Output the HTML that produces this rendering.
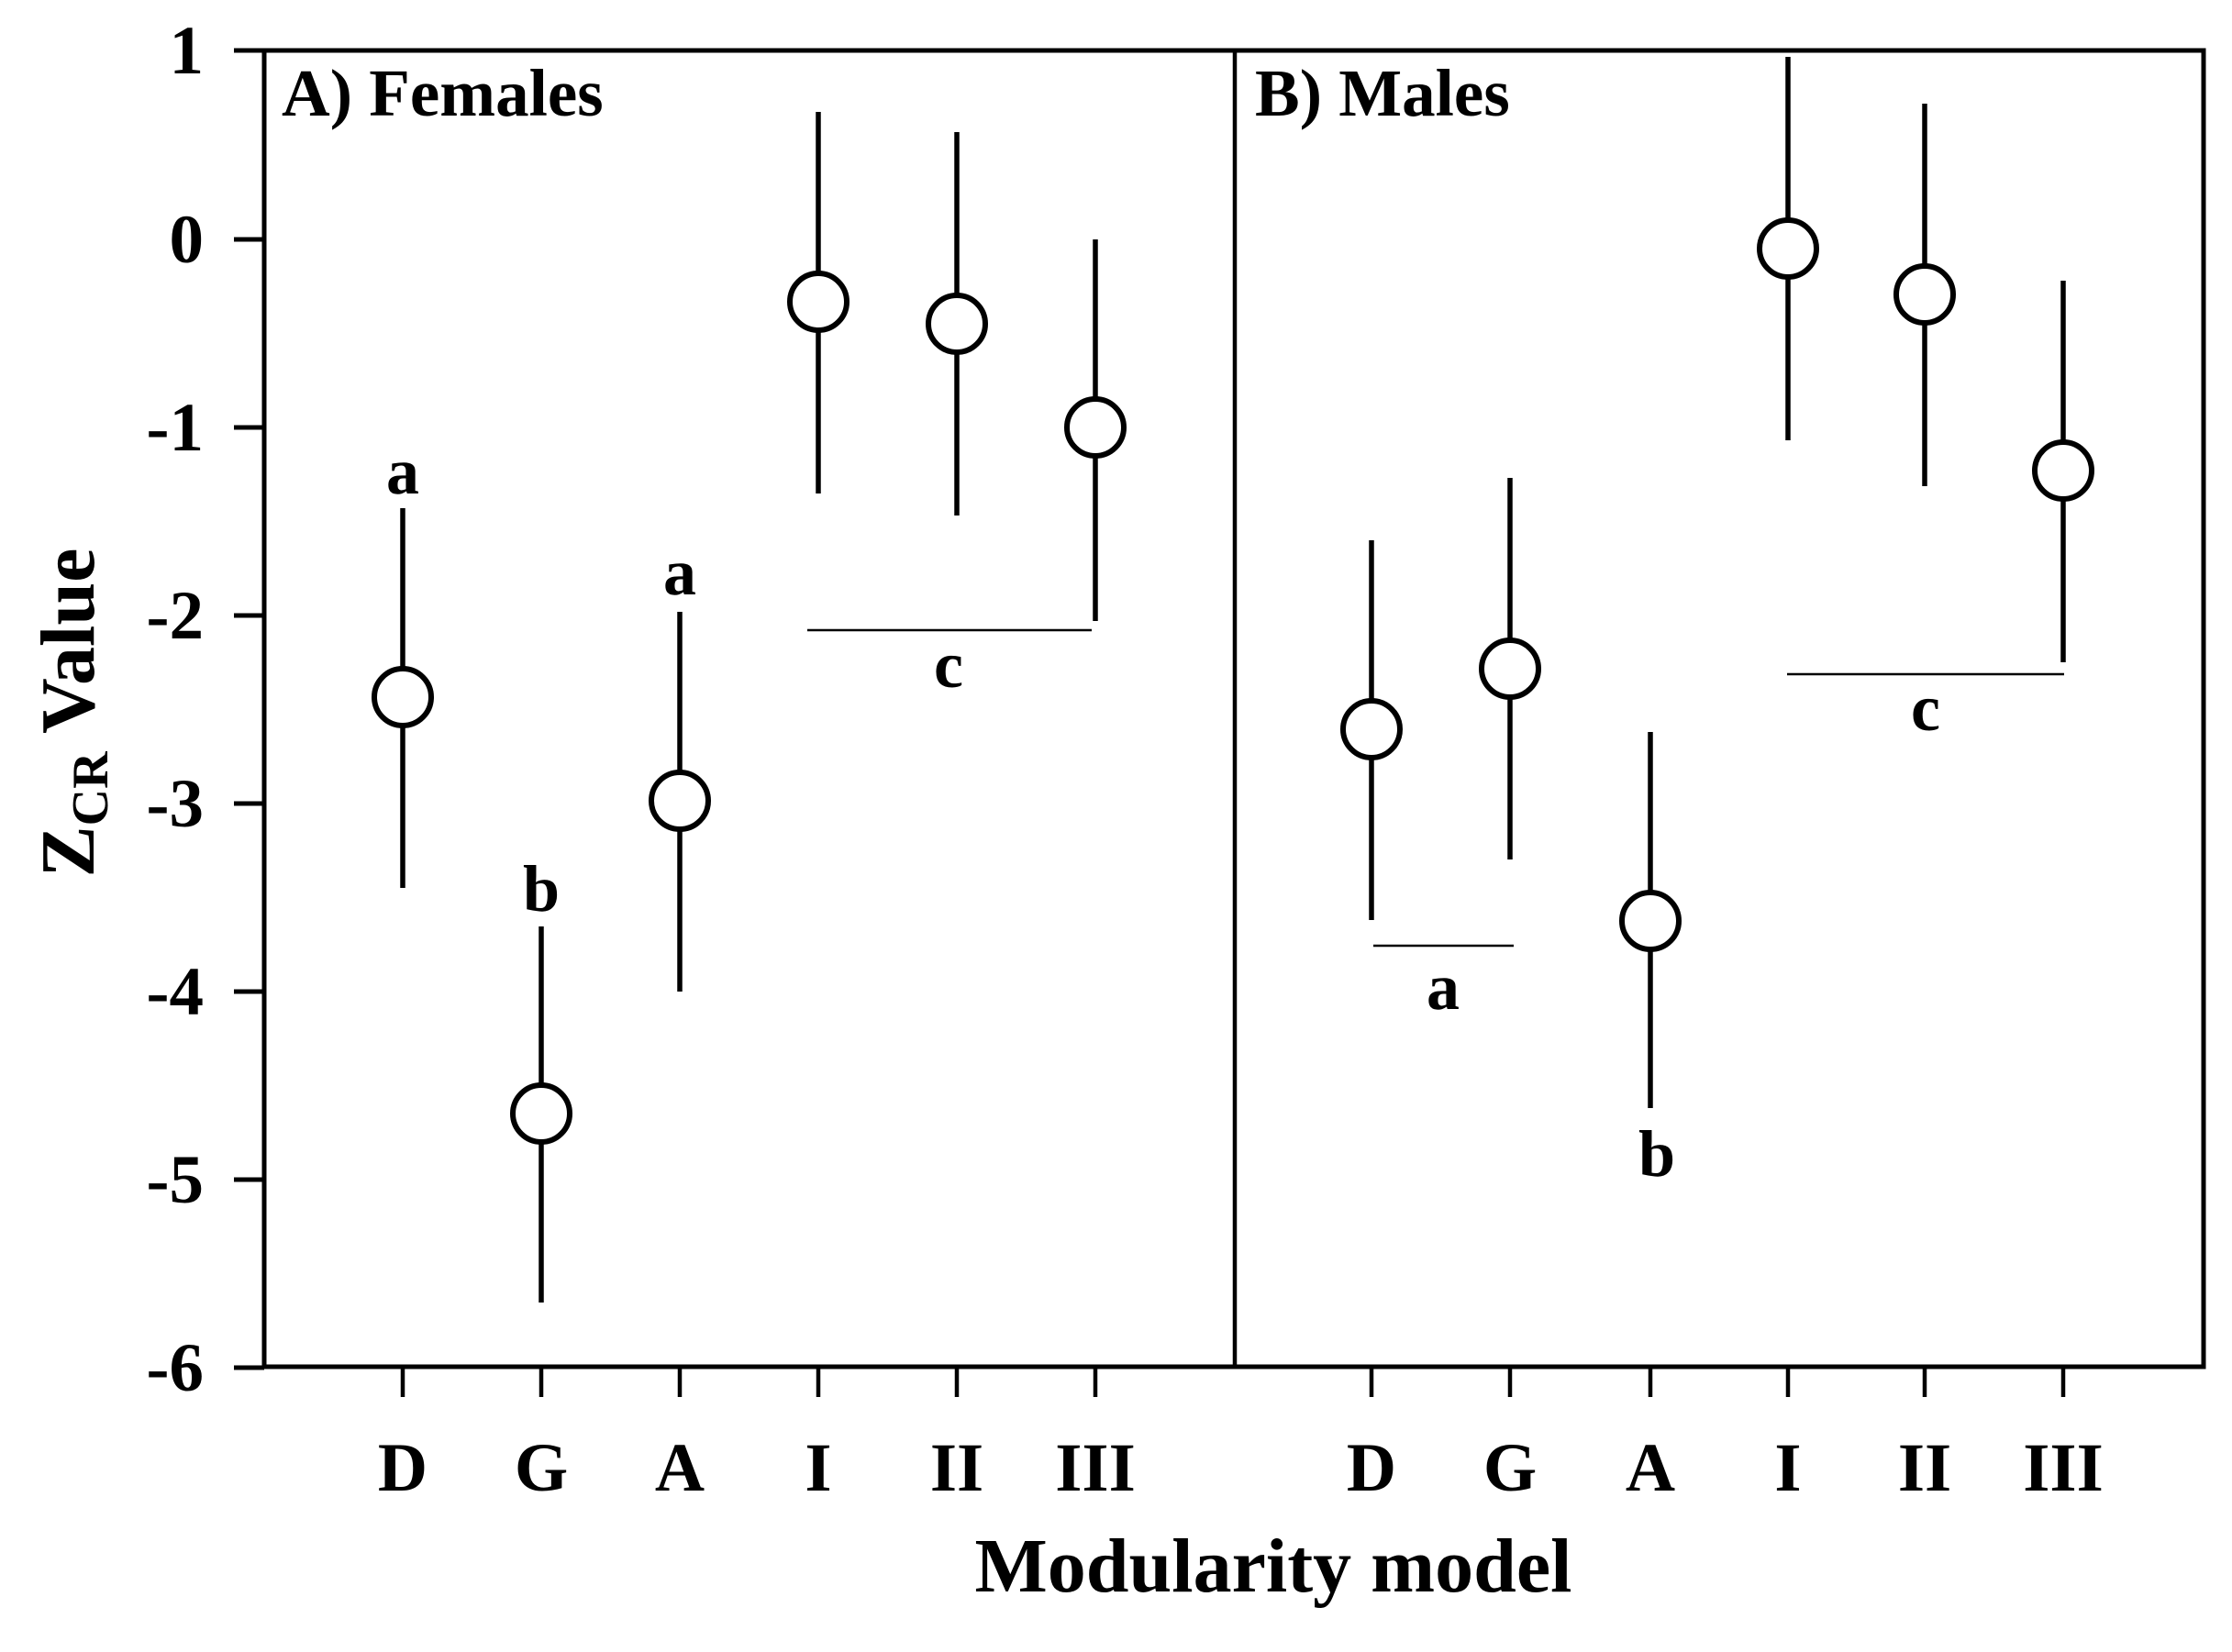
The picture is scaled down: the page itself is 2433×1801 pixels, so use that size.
<!DOCTYPE html>
<html><head><meta charset="utf-8"><style>html,body{margin:0;padding:0;background:#fff}svg{display:block}</style></head>
<body>
<svg width="2433" height="1801" viewBox="0 0 2433 1801" xmlns="http://www.w3.org/2000/svg" font-family="'Liberation Serif', serif" font-weight="bold" fill="#000">
<g stroke="#000" fill="none">
<rect x="288" y="55" width="2114" height="1435" stroke-width="5"/>
<line x1="1346" y1="55" x2="1346" y2="1490" stroke-width="4.5"/>
<g stroke-width="5">
<line x1="255" y1="55" x2="288" y2="55"/><line x1="255" y1="261" x2="288" y2="261"/><line x1="255" y1="466" x2="288" y2="466"/>
<line x1="255" y1="671" x2="288" y2="671"/><line x1="255" y1="876" x2="288" y2="876"/><line x1="255" y1="1081" x2="288" y2="1081"/>
<line x1="255" y1="1286" x2="288" y2="1286"/><line x1="255" y1="1491" x2="288" y2="1491"/>
</g>
<g stroke-width="4.5">
<line x1="439" y1="1490" x2="439" y2="1523"/><line x1="590" y1="1490" x2="590" y2="1523"/><line x1="741" y1="1490" x2="741" y2="1523"/>
<line x1="892" y1="1490" x2="892" y2="1523"/><line x1="1043" y1="1490" x2="1043" y2="1523"/><line x1="1194" y1="1490" x2="1194" y2="1523"/>
<line x1="1495" y1="1490" x2="1495" y2="1523"/><line x1="1646" y1="1490" x2="1646" y2="1523"/><line x1="1799" y1="1490" x2="1799" y2="1523"/>
<line x1="1949" y1="1490" x2="1949" y2="1523"/><line x1="2098" y1="1490" x2="2098" y2="1523"/><line x1="2249" y1="1490" x2="2249" y2="1523"/>
</g>
<g stroke-width="5.5">
<line x1="439" y1="554" x2="439" y2="968"/>
<line x1="590" y1="1010" x2="590" y2="1420"/>
<line x1="741" y1="667" x2="741" y2="1081"/>
<line x1="892" y1="122" x2="892" y2="538"/>
<line x1="1043" y1="144" x2="1043" y2="562"/>
<line x1="1194" y1="261" x2="1194" y2="677"/>
<line x1="1495" y1="589" x2="1495" y2="1003"/>
<line x1="1646" y1="521" x2="1646" y2="937"/>
<line x1="1799" y1="798" x2="1799" y2="1208"/>
<line x1="1949" y1="62" x2="1949" y2="480"/>
<line x1="2098" y1="113" x2="2098" y2="530"/>
<line x1="2249" y1="306" x2="2249" y2="722"/>
</g>
<g stroke-width="2.5">
<line x1="880" y1="687" x2="1190" y2="687"/>
<line x1="1497" y1="1031" x2="1650" y2="1031"/>
<line x1="1948" y1="735" x2="2250" y2="735"/>
</g>
<g stroke-width="6" fill="#fff">
<circle cx="439" cy="760" r="31"/>
<circle cx="590" cy="1214" r="31"/>
<circle cx="741" cy="873" r="31"/>
<circle cx="892" cy="329" r="31"/>
<circle cx="1043" cy="353" r="31"/>
<circle cx="1194" cy="466" r="31"/>
<circle cx="1495" cy="795" r="31"/>
<circle cx="1646" cy="729" r="31"/>
<circle cx="1799" cy="1004" r="31"/>
<circle cx="1949" cy="271" r="31"/>
<circle cx="2098" cy="321" r="31"/>
<circle cx="2249" cy="513" r="31"/>
</g>
</g>
<g font-size="75" text-anchor="end">
<text x="222" y="80">1</text><text x="222" y="286">0</text><text x="222" y="491">-1</text><text x="222" y="696">-2</text>
<text x="222" y="901">-3</text><text x="222" y="1106">-4</text><text x="222" y="1311">-5</text><text x="222" y="1516">-6</text>
</g>
<g font-size="75" text-anchor="middle">
<text x="439" y="1625">D</text><text x="590" y="1625">G</text><text x="741" y="1625">A</text>
<text x="892" y="1625">I</text><text x="1043" y="1625">II</text><text x="1194" y="1625">III</text>
<text x="1495" y="1625">D</text><text x="1646" y="1625">G</text><text x="1799" y="1625">A</text>
<text x="1949" y="1625">I</text><text x="2098" y="1625">II</text><text x="2249" y="1625">III</text>
</g>
<g font-size="72" text-anchor="middle">
<text x="439" y="538">a</text><text x="590" y="993">b</text><text x="741" y="648">a</text><text x="1034" y="749">c</text>
<text x="1573" y="1100">a</text><text x="1806" y="1282">b</text><text x="2099" y="796">c</text>
</g>
<text x="307" y="126" font-size="73">A) Females</text>
<text x="1368" y="126" font-size="73">B) Males</text>
<text x="1388" y="1735" font-size="84" text-anchor="middle">Modularity model</text>
<text transform="translate(102,777) rotate(-90)" font-size="84" text-anchor="middle">Z<tspan font-size="56" dy="15">CR</tspan><tspan dy="-15"> Value</tspan></text>
</svg>
</body></html>
